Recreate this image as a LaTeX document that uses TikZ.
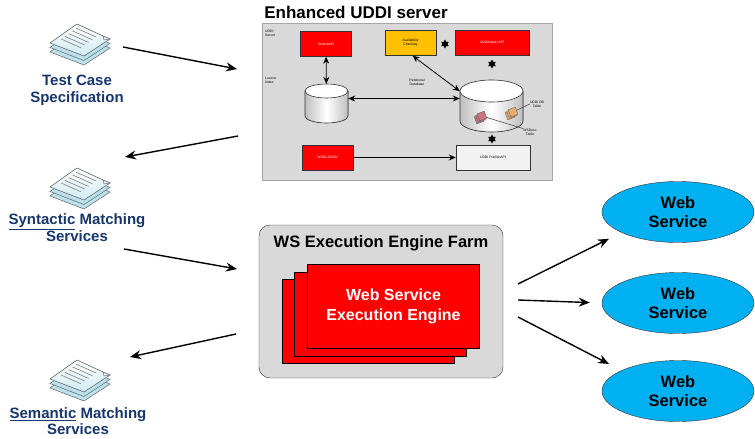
\documentclass[tikz,border=0pt]{standalone}
\usepackage{fontspec}
\setmainfont{Liberation Sans}
\usetikzlibrary{arrows.meta,shapes.geometric,shadows}
\definecolor{figNavy}{RGB}{23,54,108}
\definecolor{figRed}{RGB}{255,0,0}
\definecolor{figGold}{RGB}{255,192,0}
\definecolor{figSky}{RGB}{0,176,240}
\definecolor{figPanel}{RGB}{217,217,217}
\definecolor{figSheet}{RGB}{186,226,236}
\definecolor{figRose}{RGB}{200,120,125}
\definecolor{figTan}{RGB}{235,170,110}
\newcommand\uddifont{\fontsize{3.4}{4}\selectfont}
% stack of three paper sheets, centred at #1
\newcommand\docstack[1]{%
\begin{scope}[shift={#1}]
\foreach \dy in {9,4.5}
  \filldraw[draw=black!55,fill=figSheet,line width=0.6] (-29,\dy)--(-2,-19+\dy)--(31,-4+\dy)--(5,13+\dy)--cycle;
\filldraw[draw=black!55,top color=white,bottom color=figSheet!70,line width=0.6] (-29,0)--(-2,-19)--(24,-7)--(31,-4)--(5,13)--cycle;
\filldraw[draw=black!55,fill=figSheet!50,line width=0.5] (24,-7)--(31,-4)--(25,-3)--cycle;
\foreach \k in {1,...,5}
  \draw[black!45,line width=0.7] ({1-3.8*\k},{-17.5+2.7*\k}) -- ++(20,8.8);
\end{scope}}
% database drum: centre #1, x radius #2, rim y radius #3, half height #4
\newcommand\drum[4]{%
\begin{scope}[shift={#1}]
\filldraw[draw=black!80,line width=0.6,left color=black!25,right color=black!25,middle color=white]
  (-#2,-#4+#3) -- (-#2,#4-#3) arc[start angle=180,end angle=360,x radius=#2pt,y radius=#3pt] -- (#2,-#4+#3) -- cycle;
\filldraw[draw=black!80,line width=0.6,fill=white] (0,-#4+#3) ellipse[x radius=#2pt,y radius=#3pt];
\end{scope}}

\begin{document}
\begin{tikzpicture}[x=1pt,y=-1pt,>={Stealth[length=11pt,width=9pt]}]
\useasboundingbox (0,0) rectangle (755,439);
\tikzset{
  label/.style={text=figNavy,font=\fontsize{15}{17}\selectfont\bfseries,align=center},
  api/.style={draw=black!80,fill=figRed,text=white,minimum width=51,minimum height=25,inner sep=0,font=\uddifont,align=center},
  note/.style={font=\uddifont,align=center,inner sep=0},
  knot/.style={star,star points=6,star point ratio=1.8,fill=black,inner sep=0,minimum size=9},
  tbl/.style={draw=black!60,minimum size=7.5,inner sep=0,rotate=20,double copy shadow={shadow xshift=-1.5pt,shadow yshift=-1.5pt,draw=black!60}},
  engine/.style={draw=black,fill=figRed,minimum width=172,minimum height=84,inner sep=0},
  ws/.style={ellipse,draw=black!80,fill=figSky,minimum width=152,minimum height=61,inner sep=0,font=\fontsize{16.5}{19}\selectfont\bfseries,align=center}
}

% left column
\docstack{(79,43)}
\node[label] (tcLbl) at (77,90) {Test Case\\Specification};
\docstack{(79,187)}
\node[label] (synLbl) at (77,228) {\underline{Syntactic} Matching\\Services};
\docstack{(79,379)}
\node[label,font=\fontsize{15}{16}\selectfont\bfseries] (semLbl) at (78,421) {\underline{Semantic} Matching\\Services};

% UDDI server panel
\node[font=\fontsize{17}{20}\selectfont\bfseries] (uddiTtl) at (356,12) {Enhanced UDDI server};
\node[draw=black!35,fill=figPanel,minimum width=290,minimum height=157,inner sep=0] (uddi) at (407,101.5) {};
\node[note,align=left,anchor=north west] (srvNote) at (265,30) {UDDI\\Server};
\node[note,align=left,anchor=north west] (idxNote) at (265,77) {Lucene\\Index};
\node[api] (search) at (326,44) {SearchAPI};
\node[api,fill=figGold,text=black] (avail) at (410.5,43) {Availability\\Checking};
\node[api,minimum width=74] (inquiry) at (492,43) {UDDIInquiryAPI};
\node[knot] (k1) at (445,44) {};
\node[knot] (k2) at (492,64) {};
\drum{(326.5,103.5)}{21.5}{7}{19.5}
\node[inner sep=0,minimum width=43,minimum height=39] (lucene) at (326.5,103.5) {};
\drum{(491.5,106)}{31.5}{11}{26}
\node[inner sep=0,minimum width=63,minimum height=52] (reldb) at (491.5,106) {};
\node[note] (relNote) at (417,82) {Relational\\Database};
\node[tbl,fill=figRose] (wsdTbl) at (482,116) {};
\node[tbl,fill=figTan] (dbTbl) at (513,112) {};
\node[note] (dbNote) at (537,104) {UDDI DB\\Table};
\node[note] (wsdNote) at (530,132) {WSDesc\\Table};
\draw[black!70,line width=0.6] (wsdTbl) -- (wsdNote.north west);
\draw[black!70,line width=0.6] (dbTbl) -- (dbNote.west);
\node[knot] (k3) at (492,139) {};
\node[api] (wsdl) at (327.5,157.5) {WSDL2UDDI};
\node[api,fill=black!5,text=black,minimum width=74] (publish) at (493,157.5) {UDDI PublishAPI};
\begin{scope}[>={Stealth[length=7pt,width=6pt]},line width=0.8]
\draw[<->] (search) -- (lucene);
\draw[<->] ([yshift=5]lucene.east) -- ([yshift=5]lucene.east -| reldb.west);
\draw[<->] ([xshift=2]avail.south) -- (reldb.155);
\draw[->] (wsdl) -- (publish);
\end{scope}

% execution engine farm
\node[draw=black!80,fill=figPanel,rounded corners=11,minimum width=244,minimum height=153,inner sep=0] (farm) at (381,301.5) {};
\node[font=\fontsize{16.5}{19}\selectfont\bfseries] (farmTtl) at (381,243) {WS Execution Engine Farm};
\node[engine] (eng3) at (368.5,321) {};
\node[engine] (eng2) at (380,314) {};
\node[engine,text=white,font=\fontsize{16}{20}\selectfont\bfseries,align=center] (eng1) at (393.5,306.5) {Web Service\\Execution Engine};

% web services
\node[ws] (ws1) at (678,212) {Web\\Service};
\node[ws] (ws2) at (678,303) {Web\\Service};
\node[ws] (ws3) at (678,391) {Web\\Service};

% request / reply arrows
\coordinate (tcOut) at (123,47);
\coordinate (tcIn) at (237,69);
\coordinate (synBack) at (238,136);
\coordinate (synIn) at (125,157);
\coordinate (synOut) at (124,249);
\coordinate (farmIn) at (237,269);
\coordinate (farmBack) at (236,334);
\coordinate (semIn) at (130,357);
\draw[->,line width=1.4] (tcOut) -- (tcIn);
\draw[->,line width=1.4] (synBack) -- (synIn);
\draw[->,line width=1.4] (synOut) -- (farmIn);
\draw[->,line width=1.4] (farmBack) -- (semIn);
\coordinate (fanA) at (518,284);
\coordinate (fanB) at (518,300);
\coordinate (fanC) at (518,317);
\draw[->,line width=1.4,shorten >=14] (fanA) -- (ws1.200);
\draw[->,line width=1.4,shorten >=12] (fanB) -- (ws2.west);
\draw[->,line width=1.4,shorten >=14] (fanC) -- (ws3.160);
\end{tikzpicture}
\end{document}
